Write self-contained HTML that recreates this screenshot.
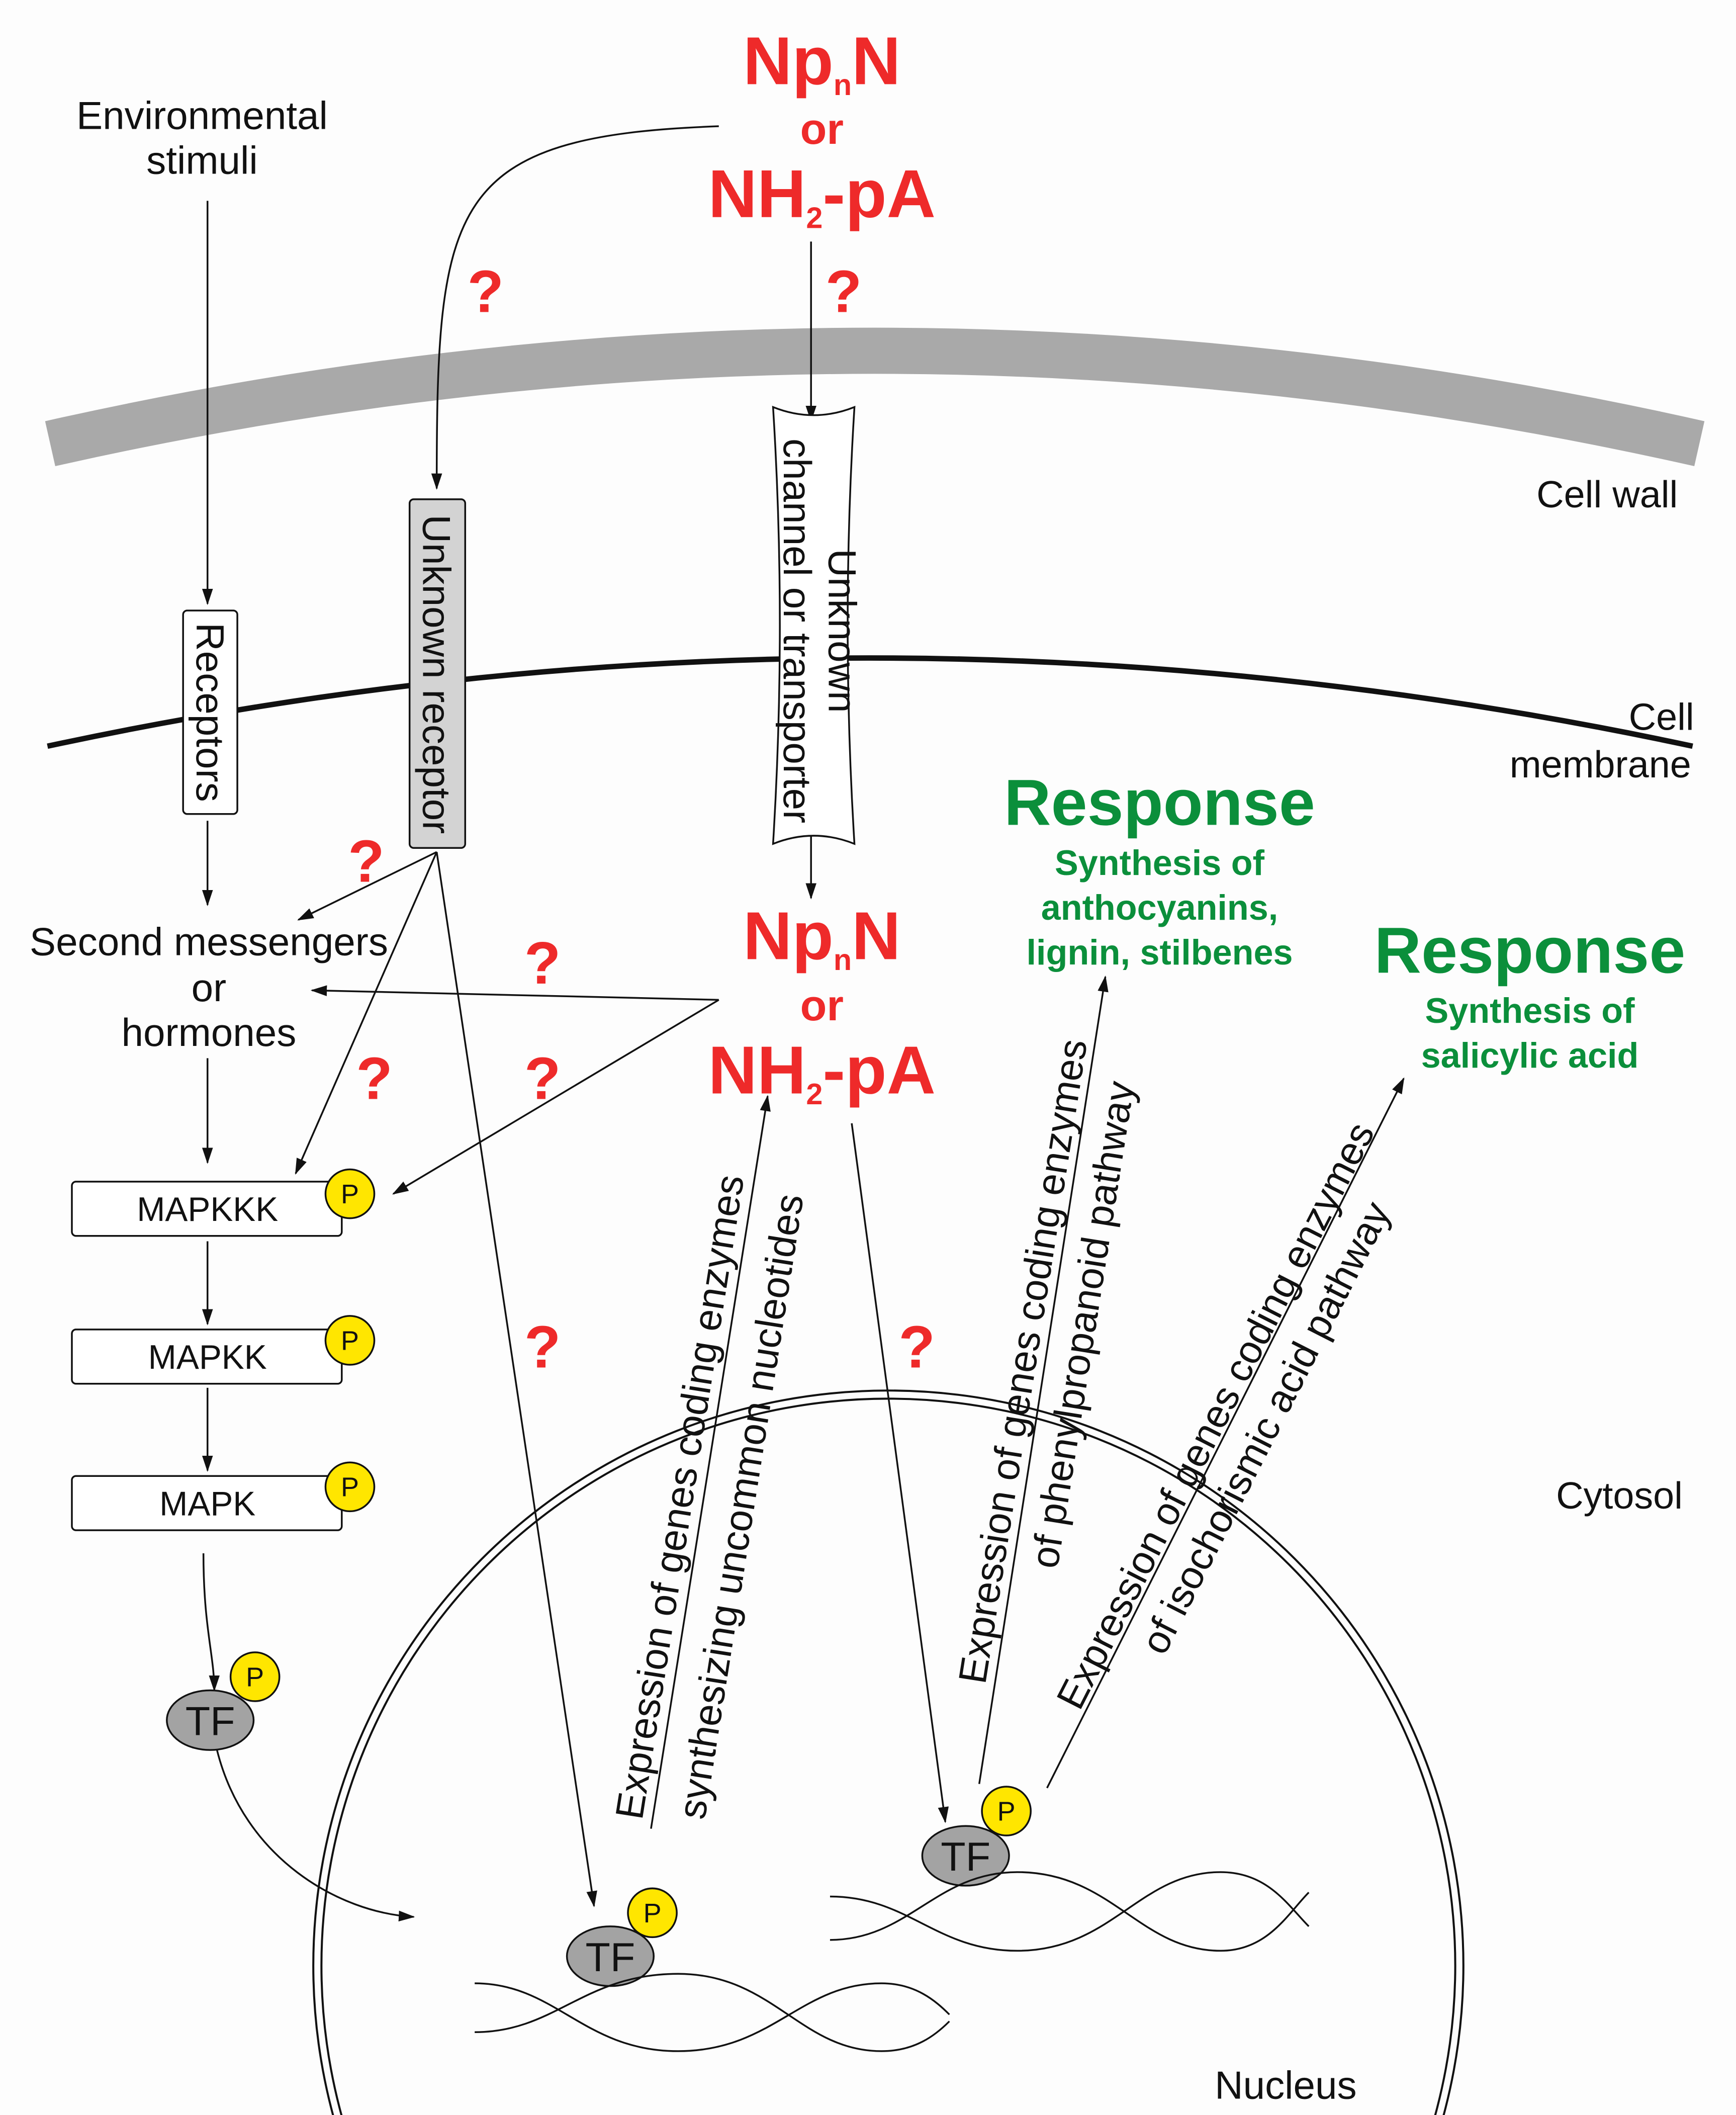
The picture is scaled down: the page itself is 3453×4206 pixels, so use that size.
<!DOCTYPE html>
<html><head><meta charset="utf-8"><style>
html,body{margin:0;padding:0;background:#fdfdfd;width:3453px;height:4206px;overflow:hidden;}
svg{display:block;}
text{font-family:"Liberation Sans",sans-serif;}
.r{fill:#ee2a2a;font-weight:bold;text-anchor:middle;}
.g{fill:#0b8f3b;font-weight:bold;text-anchor:middle;}
.k{fill:#111;text-anchor:middle;}
.q{fill:#ee2a2a;font-weight:bold;font-size:44px;text-anchor:middle;}
</style></head><body>
<svg width="3453" height="4206" viewBox="0 0 1280 1559" xmlns="http://www.w3.org/2000/svg">
<defs><marker id="a" markerWidth="12" markerHeight="8" refX="11" refY="4" orient="auto" markerUnits="userSpaceOnUse"><path d="M0,0 L12,4 L0,8 Z" fill="#111"/></marker></defs>
<rect width="1280" height="1559" fill="#fdfdfd"/>
<path d="M37,327 Q645,190 1253,327" stroke="#a9a9a9" stroke-width="34" fill="none"/>
<path d="M35,550 Q640,420 1248,550" stroke="#111" stroke-width="4" fill="none"/>
<circle cx="655" cy="1449" r="424" fill="none" stroke="#111" stroke-width="1.5"/>
<circle cx="655" cy="1449" r="418" fill="none" stroke="#111" stroke-width="1.5"/>

<g stroke="#111" stroke-width="1.3" fill="none" marker-end="url(#a)">
<line x1="153" y1="148" x2="153" y2="445"/>
<path d="M530,93 C330,100 322,150 322,360"/>
<line x1="598" y1="178" x2="598" y2="310" marker-end=""/>
<line x1="598" y1="612" x2="598" y2="662"/>
<line x1="153" y1="605" x2="153" y2="667"/>
<line x1="322" y1="628" x2="220" y2="678"/>
<line x1="322" y1="628" x2="218" y2="865"/>
<line x1="322" y1="628" x2="438" y2="1405"/>
<line x1="530" y1="737" x2="230" y2="730"/>
<line x1="530" y1="737" x2="290" y2="880"/>
<line x1="153" y1="780" x2="153" y2="857"/>
<line x1="153" y1="915" x2="153" y2="976"/>
<line x1="153" y1="1023" x2="153" y2="1084"/>
<path d="M150,1145 C150,1200 158,1220 158,1246" marker-end=""/>
<path d="M160,1290 C180,1370 250,1410 305,1413"/>
<line x1="480" y1="1348" x2="566" y2="808"/>
<line x1="628" y1="828" x2="697" y2="1343"/>
<line x1="722" y1="1315" x2="815" y2="720"/>
<line x1="772" y1="1318" x2="1035" y2="795"/>
</g>

<rect x="135" y="450" width="40" height="150" rx="3" fill="#fff" stroke="#111" stroke-width="1.3"/>
<text class="k" font-size="29" transform="translate(145,525) rotate(90)">Receptors</text>
<rect x="302" y="368" width="41" height="257" rx="3" fill="#d3d3d3" stroke="#111" stroke-width="1.3"/>
<text class="k" font-size="29" transform="translate(312,497) rotate(90)">Unknown receptor</text>
<path d="M570,300 Q600,312 630,300 Q620,460 630,622 Q600,610 570,622 Q580,460 570,300 Z" fill="#fff" stroke="#111" stroke-width="1.3"/>
<text class="k" font-size="29" transform="translate(611,465) rotate(90)">Unknown</text>
<text class="k" font-size="29" transform="translate(578,465) rotate(90)">channel or transporter</text>

<rect x="53" y="871" width="199" height="40" rx="3" fill="#fff" stroke="#111" stroke-width="1.3"/>
<text class="k" font-size="25" x="153" y="900">MAPKKK</text>
<rect x="53" y="980" width="199" height="40" rx="3" fill="#fff" stroke="#111" stroke-width="1.3"/>
<text class="k" font-size="25" x="153" y="1009">MAPKK</text>
<rect x="53" y="1088" width="199" height="40" rx="3" fill="#fff" stroke="#111" stroke-width="1.3"/>
<text class="k" font-size="25" x="153" y="1117">MAPK</text>

<g stroke="#111" stroke-width="1.3">
<circle cx="258" cy="880" r="18" fill="#ffe600"/>
<circle cx="258" cy="988" r="18" fill="#ffe600"/>
<circle cx="258" cy="1096" r="18" fill="#ffe600"/>
<ellipse cx="155" cy="1268" rx="32" ry="22" fill="#a3a3a3"/>
<circle cx="188" cy="1236" r="18" fill="#ffe600"/>
<ellipse cx="450" cy="1442" rx="32" ry="22" fill="#a3a3a3"/>
<circle cx="481" cy="1410" r="18" fill="#ffe600"/>
<ellipse cx="712" cy="1368" rx="32" ry="22" fill="#a3a3a3"/>
<circle cx="742" cy="1335" r="18" fill="#ffe600"/>
</g>
<g class="k" font-size="20"><text x="258" y="887">P</text><text x="258" y="995">P</text><text x="258" y="1103">P</text><text x="188" y="1243">P</text><text x="481" y="1417">P</text><text x="742" y="1342">P</text></g>
<g class="k" font-size="30"><text x="155" y="1279">TF</text><text x="450" y="1453">TF</text><text x="712" y="1379">TF</text></g>

<g stroke="#111" stroke-width="1.3" fill="none">
<path d="M350,1462 C410,1462 430,1512 500,1512 C570,1512 590,1462 650,1462 C675,1462 690,1475 700,1485"/>
<path d="M350,1498 C410,1498 430,1455 500,1455 C570,1455 590,1512 650,1512 C675,1512 690,1500 700,1490"/>
<path d="M612,1398 C670,1398 690,1438 750,1438 C820,1438 840,1380 900,1380 C935,1380 950,1405 965,1420"/>
<path d="M612,1430 C670,1430 690,1380 750,1380 C820,1380 840,1438 900,1438 C935,1438 950,1410 965,1395"/>
</g>

<text class="k" font-size="29" x="149" y="95">Environmental</text>
<text class="k" font-size="29" x="149" y="128">stimuli</text>
<text class="r" font-size="50" x="606" y="62">Np<tspan font-size="22" dy="8">n</tspan><tspan dy="-8">N</tspan></text>
<text class="r" font-size="32" x="606" y="106">or</text>
<text class="r" font-size="50" x="606" y="160">NH<tspan font-size="22" dy="8">2</tspan><tspan dy="-8">-pA</tspan></text>
<text class="r" font-size="50" x="606" y="707">Np<tspan font-size="22" dy="8">n</tspan><tspan dy="-8">N</tspan></text>
<text class="r" font-size="32" x="606" y="752">or</text>
<text class="r" font-size="50" x="606" y="806">NH<tspan font-size="22" dy="8">2</tspan><tspan dy="-8">-pA</tspan></text>

<text class="q" x="358" y="230">?</text><text class="q" x="622" y="230">?</text>
<text class="q" x="270" y="650">?</text><text class="q" x="400" y="725">?</text>
<text class="q" x="276" y="810">?</text><text class="q" x="400" y="810">?</text>
<text class="q" x="400" y="1008">?</text><text class="q" x="676" y="1008">?</text>

<text class="k" font-size="28" x="1185" y="374">Cell wall</text>
<text class="k" font-size="28" x="1225" y="538">Cell</text>
<text class="k" font-size="28" x="1180" y="573">membrane</text>
<text class="k" font-size="28" x="1194" y="1112">Cytosol</text>
<text class="k" font-size="29" x="948" y="1547">Nucleus</text>

<text class="k" font-size="29" x="154" y="704">Second messengers</text>
<text class="k" font-size="29" x="154" y="738">or</text>
<text class="k" font-size="29" x="154" y="771">hormones</text>

<text class="g" font-size="48" x="855" y="608">Response</text>
<text class="g" font-size="26" x="855" y="645">Synthesis of</text>
<text class="g" font-size="26" x="855" y="678">anthocyanins,</text>
<text class="g" font-size="26" x="855" y="711">lignin, stilbenes</text>
<text class="g" font-size="48" x="1128" y="717">Response</text>
<text class="g" font-size="26" x="1128" y="754">Synthesis of</text>
<text class="g" font-size="26" x="1128" y="787">salicylic acid</text>

<g class="k" font-size="29">
<text transform="translate(511,1105) rotate(-81)">Expression of genes coding enzymes</text>
<text transform="translate(556,1112) rotate(-81)">synthesizing uncommon nucleotides</text>
<text transform="translate(764,1005) rotate(-81)">Expression of genes coding enzymes</text>
<text transform="translate(808,978) rotate(-81)">of phenylpropanoid pathway</text>
<text transform="translate(905,1048) rotate(-63)">Expression of genes coding enzymes</text>
<text transform="translate(942,1057) rotate(-63)">of isochorismic acid pathway</text>
</g>
</svg>
</body></html>
